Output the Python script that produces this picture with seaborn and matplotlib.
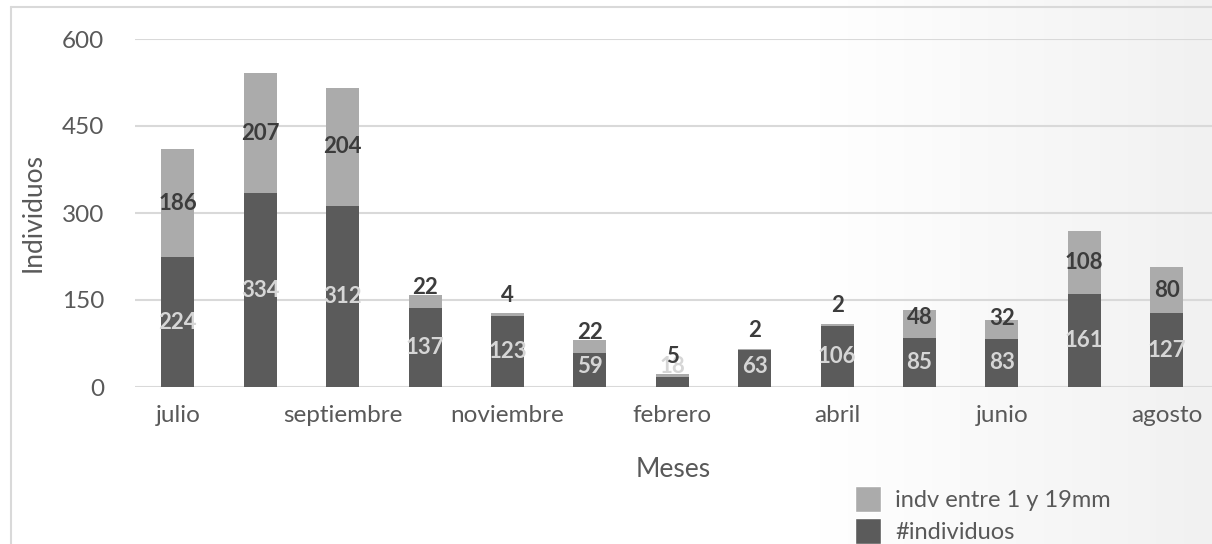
import numpy as np
import pandas as pd
import matplotlib
matplotlib.use("Agg")
import matplotlib.pyplot as plt
import seaborn as sns
from matplotlib.patches import Patch
from matplotlib.lines import Line2D

# ---- data ----
meses = ["julio", "agosto", "septiembre", "octubre", "noviembre", "enero",
         "febrero", "marzo", "abril", "mayo", "junio", "julio", "agosto"]
individuos = [224, 334, 312, 137, 123, 59, 18, 63, 106, 85, 83, 161, 127]
indv_1_19mm = [186, 207, 204, 22, 4, 22, 5, 2, 2, 48, 32, 108, 80]
y_ticks = [0, 150, 300, 450, 600]
serie_claro = "indv entre 1 y 19mm"
serie_oscuro = "#individuos"

# ---- style ----
sns.set_theme(style="white")
plt.rcParams["font.family"] = ["Lato", "DejaVu Sans"]

C_DARK = "#5b5b5b"
C_LIGHT = "#ababab"
C_GRID = "#d9d9d9"
C_TEXT = "#595959"

W, H = 1212, 544
fig = plt.figure(figsize=(W / 100, H / 100), dpi=100)
fig.patch.set_facecolor("white")

# background gradient (white -> light grey on the right)
bg = fig.add_axes([0, 0, 1, 1], zorder=-10)
xs = np.arange(W)
g = np.where(xs < 820, 1.0, 1.0 - (xs - 820) / (W - 820) * 0.055)
bg.imshow(np.tile(g, (2, 1))[:, :, None].repeat(3, axis=2), aspect="auto",
          extent=[0, 1, 0, 1], interpolation="bilinear")
bg.set_axis_off()

ax = fig.add_axes([135 / W, 157 / H, (W - 135) / W, 348 / H])
ax.set_facecolor("none")

n = len(meses)
df = pd.DataFrame({
    "pos": np.arange(n),
    "total": np.array(individuos) + np.array(indv_1_19mm),
    "ind": individuos,
})

sns.barplot(data=df, x="pos", y="total", color=C_LIGHT, width=0.4,
            saturation=1, errorbar=None, linewidth=0, ax=ax)
sns.barplot(data=df, x="pos", y="ind", color=C_DARK, width=0.4,
            saturation=1, errorbar=None, linewidth=0, ax=ax)

# data labels
for i, (d, l) in enumerate(zip(individuos, indv_1_19mm)):
    ax.text(i, max(d / 2, 36), str(d), ha="center", va="center",
            color="#d6d6d6", fontsize=16, fontweight="bold")
    ax.text(i, max(d + l / 2, d + 35), str(l), ha="center", va="center",
            color="#3c3c3c", fontsize=16, fontweight="bold")

ax.set_xlim(-0.52, 12.55)
ax.set_ylim(0, 600)
ax.set_xticks(np.arange(n))
ax.set_xticklabels([m if i % 2 == 0 else "" for i, m in enumerate(meses)])
ax.set_yticks(y_ticks)
ax.set_yticklabels([str(v) for v in y_ticks])
ax.tick_params(axis="both", length=0, labelsize=17.5, colors=C_TEXT)
ax.tick_params(axis="y", pad=22)
ax.tick_params(axis="x", pad=13)
ax.yaxis.grid(True, color=C_GRID, linewidth=1.5)
ax.xaxis.grid(False)
ax.set_axisbelow(True)
for s in ax.spines.values():
    s.set_visible(False)
ax.set_xlabel("Meses", fontsize=19, color=C_TEXT, labelpad=22)
ax.set_ylabel("Individuos", fontsize=19, color=C_TEXT, labelpad=12)

# chart border (left and top edges visible)
fig.add_artist(Line2D([11 / W, 11 / W], [0, 1 - 7 / H], transform=fig.transFigure,
                      color=C_GRID, linewidth=1.5))
fig.add_artist(Line2D([11 / W, 1], [1 - 7 / H, 1 - 7 / H], transform=fig.transFigure,
                      color=C_GRID, linewidth=1.5))

handles = [Patch(facecolor=C_LIGHT, label=serie_claro),
           Patch(facecolor=C_DARK, label=serie_oscuro)]
fig.legend(handles=handles, loc="upper left",
           bbox_to_anchor=(855 / W, 1 - 486 / H), bbox_transform=fig.transFigure,
           frameon=False, fontsize=17, handlelength=1.1, handleheight=1.3,
           handletextpad=0.6, labelspacing=0.26, borderpad=0, borderaxespad=0,
           labelcolor=C_TEXT)

fig.savefig("out.png", dpi=100)
